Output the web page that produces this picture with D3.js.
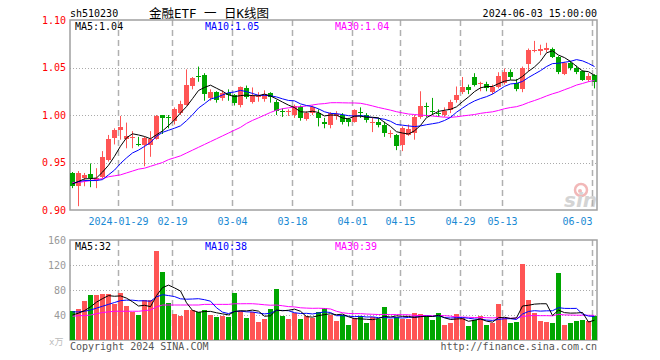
<!DOCTYPE html>
<html><head><meta charset="utf-8">
<script src="https://cdn.jsdelivr.net/npm/d3@7/dist/d3.min.js"></script>
<style>body{margin:0;background:#fff}svg{display:block}</style>
</head><body>
<svg id="c" width="660" height="360"></svg>
<script>
const dates = ["2024-01-17","2024-01-18","2024-01-19","2024-01-22","2024-01-23","2024-01-24","2024-01-25","2024-01-26","2024-01-29","2024-01-30","2024-01-31",
"2024-02-01","2024-02-02","2024-02-05","2024-02-06","2024-02-07","2024-02-08","2024-02-19","2024-02-20","2024-02-21","2024-02-22","2024-02-23","2024-02-26","2024-02-27","2024-02-28","2024-02-29",
"2024-03-01","2024-03-04","2024-03-05","2024-03-06","2024-03-07","2024-03-08","2024-03-11","2024-03-12","2024-03-13","2024-03-14","2024-03-15","2024-03-18","2024-03-19","2024-03-20","2024-03-21","2024-03-22","2024-03-25","2024-03-26","2024-03-27","2024-03-28","2024-03-29",
"2024-04-01","2024-04-02","2024-04-03","2024-04-08","2024-04-09","2024-04-10","2024-04-11","2024-04-12","2024-04-15","2024-04-16","2024-04-17","2024-04-18","2024-04-19","2024-04-22","2024-04-23","2024-04-24","2024-04-25","2024-04-26","2024-04-29","2024-04-30",
"2024-05-06","2024-05-07","2024-05-08","2024-05-09","2024-05-10","2024-05-13","2024-05-14","2024-05-15","2024-05-16","2024-05-17","2024-05-20","2024-05-21","2024-05-22","2024-05-23","2024-05-24","2024-05-27","2024-05-28","2024-05-29","2024-05-30","2024-05-31","2024-06-03"];

const open = [.939,.925,.934,.938,.932,.935,.953,.976,.984,.975,.976,.970,.968,.968,.975,1.000,.998,.994,1.002,1.011,1.031,1.041,1.042,1.018,1.024,1.018,1.023,1.021,1.011,1.028,
1.014,1.019,1.017,1.023,1.014,1.004,1.003,1.000,1.008,.996,1.002,1.002,.993,.989,.999,1.000,.996,.993,1.003,1.000,.992,.993,.989,.980,.979,.968,.979,.981,.998,1.009,
1.004,1.002,1.000,1.005,1.016,1.024,1.030,1.040,1.033,1.033,1.024,1.030,1.034,1.045,1.034,1.027,1.054,1.067,1.067,1.068,1.070,1.061,1.043,1.055,1.050,1.046,1.037,1.042];
const high = [.940,.941,.939,.949,.944,.962,.979,.986,.999,.992,.983,.977,.977,.983,1.000,1.000,1.000,1.008,1.015,1.048,1.040,1.051,1.044,1.027,1.025,1.026,1.027,1.022,1.030,1.031,
1.029,1.024,1.026,1.024,1.016,1.007,1.006,1.011,1.010,1.004,1.010,1.006,.997,1.003,1.004,1.002,.997,1.006,1.008,1.002,.997,.997,.993,.984,.980,.988,.990,1.000,1.025,1.013,
1.018,1.006,1.008,1.016,1.030,1.040,1.032,1.044,1.035,1.035,1.032,1.045,1.049,1.048,1.038,1.051,1.070,1.078,1.074,1.076,1.071,1.062,1.056,1.057,1.052,1.047,1.044,1.043];
const low = [.923,.904,.925,.924,.923,.933,.951,.969,.974,.965,.965,.967,.946,.956,.974,.980,.986,.990,1.000,1.010,1.027,1.035,1.015,1.015,1.013,1.015,1.015,1.010,1.008,1.017,
1.012,1.014,1.014,1.013,1.000,.998,.999,.997,.994,.994,1.000,.988,.986,.986,.995,.990,.988,.992,.997,.992,.982,.987,.977,.976,.963,.962,.978,.974,.996,.998,
1.000,.998,.998,1.002,1.013,1.022,1.022,1.030,1.025,1.025,1.022,1.028,1.032,1.037,1.025,1.024,1.046,1.066,1.063,1.066,1.060,1.043,1.042,1.047,1.043,1.036,1.035,1.028];
const close = [.925,.939,.937,.9335,.934,.956,.975,.984,.987,.978,.977,.969,.976,.975,.999,.997,.997,1.006,1.012,1.032,1.039,1.040,1.022,1.024,1.016,1.023,1.021,1.013,1.029,1.019,
1.020,1.020,1.022,1.019,1.004,1.003,1.004,1.009,.997,1.002,1.008,.997,.991,1.002,1.001,.993,.993,1.005,1.002,.995,.993,.990,.981,.981,.967,.986,.985,.998,1.009,1.008,
1.003,1.001,1.004,1.014,1.021,1.030,1.026,1.032,1.034,1.028,1.030,1.041,1.045,1.040,1.027,1.050,1.068,1.068,1.070,1.071,1.061,1.045,1.055,1.050,1.045,1.037,1.041,1.035];
const volume = [46,50,63,72,72,74,74,58,75,54,45,40,64,64,142,109,60,42,39,48,48,45,48,40,37,39,37,75,46,36,
45,29,34,50,82,39,33,43,33,39,35,45,51,40,31,40,24,36,38,28,37,33,53,33,37,33,33,44,41,38,
32,43,24,27,42,35,22,32,38,24,27,58,35,28,29,122,64,44,31,29,28,107,24,27,30,32,31,38];

// moving-average values for the first bars (window needs earlier data)
const ma5Early = [.9275,.930,.9328,.933];
const ma10Early = [.9275,.930,.931,.931,.931,.932,.937,.942,.949];
const ma30Early = [.929,.929,.930,.931,.932,.933,.935,.936,.937,.939,.941,.943,.944,.946,.948,.950,.953,.955,.957,.960,.963,.966,.969,.972,.975,.978,.981,.984,.987];
const vma5Early = [40,43,47,53];
const vma10Early = [45,45,46,48,51,54,57,60,63];
const vma30Early = [38,39,39,40,42,44,45,46,46,46,46,46,47,48,53,56,56,56,56,56,56,56,57,57,57,57,57,58,58];

const priceTicks = [0.90,0.95,1.00,1.05,1.10];
const volTicks = [40,80,120,160];
const dateTicks = ["2024-01-29","2024-02-19","2024-03-04","2024-03-18","2024-04-01","2024-04-15","2024-04-29","2024-05-13","2024-06-03"];

const UP = "#ff5555", DOWN = "#00a600";
const MONO = "'DejaVu Sans Mono', 'Liberation Mono', monospace";
const L = 70, R = 597, PT = 20, PB = 210, VT = 240, VB = 340;

function ma(arr, n, early) {
  return arr.map((v, i) => i < n - 1 ? early[i] : d3.mean(arr.slice(i - n + 1, i + 1)));
}
const ma5 = ma(close, 5, ma5Early), ma10 = ma(close, 10, ma10Early), ma30 = ma(close, 30, ma30Early);
const vma5 = ma(volume, 5, vma5Early), vma10 = ma(volume, 10, vma10Early), vma30 = ma(volume, 30, vma30Early);

const svg = d3.select("#c");
const x = d3.scaleBand().domain(dates).range([L, R]).paddingInner(1/6).paddingOuter(0);
const y = d3.scaleLinear().domain([0.90, 1.10]).range([PB, PT]);
const yv = d3.scaleLinear().domain([0, 160]).range([VB, VT]);

const defs = svg.append("defs");
defs.append("clipPath").attr("id","cp").append("rect").attr("x",L).attr("y",PT).attr("width",R-L).attr("height",PB-PT);
defs.append("clipPath").attr("id","cv").append("rect").attr("x",L).attr("y",VT).attr("width",R-L).attr("height",VB-VT);

// header
svg.append("text").attr("x", L).attr("y", 17).attr("font-family", MONO).attr("font-size", 10).attr("fill", "#000").text("sh510230");
svg.append("text").attr("x", 209).attr("y", 18).attr("text-anchor","middle").attr("font-family", MONO + ", 'Noto Sans CJK SC'").attr("font-size", 12.5).attr("fill", "#000").text("金融ETF 一 日K线图");
svg.append("text").attr("x", R).attr("y", 17).attr("text-anchor","end").attr("font-family", MONO).attr("font-size", 10).attr("fill", "#000").text("2024-06-03 15:00:00");

// watermark
const wm = svg.append("g").attr("clip-path","url(#cp)");
wm.append("circle").attr("cx", 581).attr("cy", 190).attr("r", 6).attr("fill","none").attr("stroke","#f2b8b8").attr("stroke-width",2.5);
wm.append("circle").attr("cx", 580).attr("cy", 191).attr("r", 2).attr("fill","#f2b8b8");
wm.append("text").attr("x", 564).attr("y", 207).attr("font-family","'DejaVu Sans'").attr("font-style","italic").attr("font-weight","bold").attr("font-size",20).attr("fill","#d4d4d4").text("sina");

// grids
function hgrid(vals, sc) {
  svg.append("g").selectAll("line").data(vals).join("line")
    .attr("x1", L).attr("x2", R).attr("y1", d => Math.round(sc(d)) + 0.5).attr("y2", d => Math.round(sc(d)) + 0.5)
    .attr("stroke", "#aaa").attr("stroke-dasharray", "1,2");
}
hgrid([0.95, 1.00, 1.05], y);
hgrid([40, 80, 120], yv);
[[PT, PB], [VT, VB]].forEach(([a, b]) => {
  svg.append("g").selectAll("line").data(dateTicks).join("line")
    .attr("x1", d => x(d) + 0.5).attr("x2", d => x(d) + 0.5).attr("y1", a).attr("y2", b)
    .attr("stroke", "#b0b0b0").attr("stroke-width", 1.5).attr("stroke-dasharray", "6,4");
});

// frames
[[PT, PB], [VT, VB]].forEach(([a, b]) => {
  svg.append("rect").attr("x", L).attr("y", a).attr("width", R - L).attr("height", b - a)
    .attr("fill", "none").attr("stroke", "#a0a0a0").attr("stroke-width", 1.5);
});

// axes
const ya = svg.append("g").attr("transform", `translate(${L},0)`)
  .call(d3.axisLeft(y).tickValues(priceTicks).tickFormat(d3.format(".2f")).tickSize(0).tickPadding(4));
ya.select(".domain").remove();
ya.selectAll("text").attr("font-family", MONO).attr("font-size", 10).attr("fill", "#f00");

const va = svg.append("g").attr("transform", `translate(${L},0)`)
  .call(d3.axisLeft(yv).tickValues(volTicks).tickSize(0).tickPadding(4));
va.select(".domain").remove();
va.selectAll("text").attr("font-family", MONO).attr("font-size", 10).attr("fill", "#999");

const xa = svg.append("g").attr("transform", `translate(-2,${PB})`)
  .call(d3.axisBottom(x).tickValues(dateTicks).tickFormat((d, i) => i === 0 ? d : d.slice(5)).tickSize(0).tickPadding(8));
xa.select(".domain").remove();
xa.selectAll("text").attr("font-family", MONO).attr("font-size", 10).attr("fill", "#1a8ad4");
xa.selectAll(".tick").filter((d, i) => i === dateTicks.length - 1).select("text").attr("text-anchor", "end").attr("x", 0);

svg.append("text").attr("x", 49).attr("y", 345).attr("font-family", MONO + ", 'Noto Sans CJK SC'").attr("font-size", 9).attr("fill", "#bbb").text("x万");

// candles
const cg = svg.append("g").attr("clip-path", "url(#cp)");
const idx = d3.range(dates.length);
cg.selectAll("line.w").data(idx).join("line").attr("class", "w")
  .attr("x1", i => x(dates[i]) + 2.5).attr("x2", i => x(dates[i]) + 2.5)
  .attr("y1", i => y(high[i])).attr("y2", i => y(low[i]))
  .attr("stroke", i => close[i] >= open[i] ? UP : DOWN).attr("stroke-width", 1);
cg.selectAll("rect.b").data(idx).join("rect").attr("class", "b")
  .attr("x", i => x(dates[i])).attr("width", x.bandwidth())
  .attr("y", i => y(Math.max(open[i], close[i])))
  .attr("height", i => Math.max(1, Math.abs(y(open[i]) - y(close[i]))))
  .attr("fill", i => close[i] >= open[i] ? UP : DOWN).attr("shape-rendering", "crispEdges");

const pl = d3.line().x((d, i) => x(dates[i]) + 2.5).y(d => y(d));
[[ma30, "#ff00ff"], [ma10, "#0000ff"], [ma5, "#000"]].forEach(([s, c]) => {
  cg.append("path").attr("d", pl(s)).attr("fill", "none").attr("stroke", c).attr("stroke-width", 1);
});

// volume
const vg = svg.append("g").attr("clip-path", "url(#cv)");
vg.selectAll("rect").data(idx).join("rect")
  .attr("x", i => x(dates[i])).attr("width", x.bandwidth())
  .attr("y", i => yv(volume[i])).attr("height", i => VB - yv(volume[i]))
  .attr("fill", i => close[i] >= open[i] ? UP : DOWN).attr("shape-rendering", "crispEdges");
const vl = d3.line().x((d, i) => x(dates[i]) + 2.5).y(d => yv(d));
[[vma30, "#ff00ff"], [vma10, "#0000ff"], [vma5, "#000"]].forEach(([s, c]) => {
  vg.append("path").attr("d", vl(s)).attr("fill", "none").attr("stroke", c).attr("stroke-width", 1);
});

// legends
const f2 = d3.format(".2f"), f0 = d3.format(".0f");
const legX = [75, 205, 335], legC = ["#000", "#0000ff", "#ff00ff"];
[["MA5", ma5], ["MA10", ma10], ["MA30", ma30]].forEach(([n, s], k) => {
  svg.append("text").attr("x", legX[k]).attr("y", 30).attr("font-family", MONO).attr("font-size", 10).attr("fill", legC[k]).text(n + ":" + f2(s[s.length - 1]));
});
[["MA5", vma5], ["MA10", vma10], ["MA30", vma30]].forEach(([n, s], k) => {
  svg.append("text").attr("x", legX[k]).attr("y", 250).attr("font-family", MONO).attr("font-size", 10).attr("fill", legC[k]).text(n + ":" + f0(s[s.length - 1]));
});

// footer
svg.append("text").attr("x", L).attr("y", 350).attr("font-family", MONO).attr("font-size", 10).attr("fill", "#555").text("Copyright 2024 SINA.COM");
svg.append("text").attr("x", R).attr("y", 350).attr("text-anchor", "end").attr("font-family", MONO).attr("font-size", 10).attr("fill", "#555").text("http://finance.sina.com.cn");
</script>
</body></html>
